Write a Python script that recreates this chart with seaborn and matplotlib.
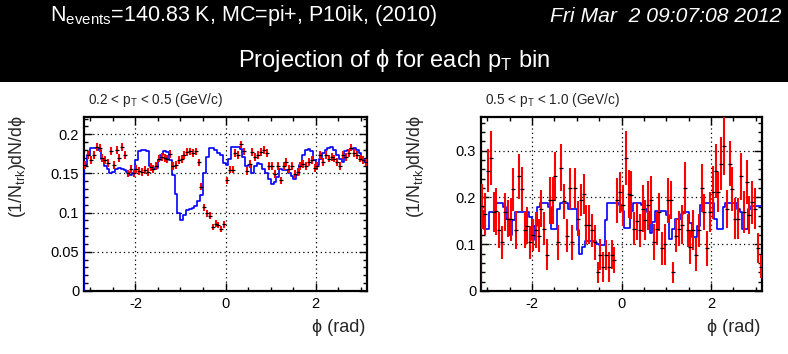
import numpy as np
import pandas as pd
import matplotlib
matplotlib.use("Agg")
import matplotlib.pyplot as plt
import seaborn as sns
from matplotlib.patches import Rectangle
from matplotlib.ticker import MultipleLocator, FuncFormatter

# --- values (100 phi bins from -pi to pi) ---
pt_bins = ["0.2 < $\\mathregular{p_{T}}$ < 0.5 (GeV/c)",
           "0.5 < $\\mathregular{p_{T}}$ < 1.0 (GeV/c)"]

data_low = [0.161, 0.173, 0.167, 0.173, 0.184, 0.182, 0.170, 0.167, 0.163, 0.179,
            0.161, 0.180, 0.170, 0.184, 0.174, 0.150, 0.156, 0.150, 0.156, 0.153,
            0.152, 0.154, 0.152, 0.158, 0.156, 0.159, 0.169, 0.171, 0.170, 0.168,
            0.175, 0.159, 0.161, 0.167, 0.168, 0.174, 0.177, 0.178, 0.176, 0.178,
            0.164, 0.133, 0.107, 0.099, 0.096, 0.082, 0.086, 0.084, 0.079, 0.085,
            0.141, 0.155, 0.155, 0.176, 0.174, 0.187, 0.178, 0.153, 0.162, 0.177,
            0.171, 0.174, 0.177, 0.180, 0.176, 0.159, 0.159, 0.149, 0.159, 0.141,
            0.159, 0.165, 0.156, 0.159, 0.149, 0.152, 0.159, 0.162, 0.159, 0.165,
            0.167, 0.157, 0.159, 0.173, 0.165, 0.174, 0.169, 0.171, 0.169, 0.165,
            0.159, 0.173, 0.171, 0.176, 0.183, 0.176, 0.173, 0.169, 0.167, 0.164]
err_low = [0.005, 0.005, 0.005, 0.005, 0.005, 0.005, 0.005, 0.005, 0.005, 0.005,
           0.005, 0.005, 0.005, 0.005, 0.005, 0.005, 0.005, 0.005, 0.005, 0.005,
           0.005, 0.005, 0.005, 0.005, 0.005, 0.005, 0.005, 0.005, 0.005, 0.005,
           0.005, 0.005, 0.005, 0.005, 0.005, 0.005, 0.005, 0.005, 0.005, 0.005,
           0.005, 0.0045, 0.0045, 0.0045, 0.0045, 0.004, 0.004, 0.004, 0.004, 0.004,
           0.0045, 0.005, 0.005, 0.005, 0.005, 0.005, 0.005, 0.005, 0.005, 0.005,
           0.005, 0.005, 0.005, 0.005, 0.005, 0.005, 0.005, 0.005, 0.005, 0.005,
           0.005, 0.005, 0.005, 0.005, 0.005, 0.005, 0.005, 0.005, 0.005, 0.005,
           0.005, 0.005, 0.005, 0.005, 0.005, 0.005, 0.005, 0.005, 0.005, 0.005,
           0.005, 0.005, 0.005, 0.005, 0.005, 0.005, 0.005, 0.005, 0.005, 0.005]
mc_low = [0.161, 0.173, 0.182, 0.183, 0.183, 0.180, 0.169, 0.160, 0.156, 0.150,
          0.152, 0.156, 0.157, 0.156, 0.154, 0.152, 0.148, 0.150, 0.167, 0.179,
          0.180, 0.180, 0.178, 0.159, 0.156, 0.157, 0.167, 0.174, 0.179, 0.177,
          0.167, 0.148, 0.124, 0.100, 0.091, 0.097, 0.103, 0.104, 0.106, 0.109,
          0.115, 0.122, 0.150, 0.171, 0.182, 0.183, 0.180, 0.176, 0.174, 0.163,
          0.161, 0.169, 0.184, 0.184, 0.184, 0.181, 0.171, 0.159, 0.161, 0.150,
          0.159, 0.163, 0.162, 0.156, 0.150, 0.143, 0.137, 0.139, 0.146, 0.156,
          0.154, 0.154, 0.151, 0.147, 0.143, 0.148, 0.161, 0.174, 0.180, 0.181,
          0.178, 0.167, 0.161, 0.169, 0.176, 0.180, 0.183, 0.184, 0.180, 0.173,
          0.169, 0.165, 0.178, 0.180, 0.181, 0.183, 0.180, 0.176, 0.169, 0.164]

data_high = [0.181, 0.165, 0.257, 0.284, 0.169, 0.170, 0.130, 0.104, 0.169, 0.155,
             0.153, 0.218, 0.130, 0.245, 0.218, 0.130, 0.140, 0.104, 0.120, 0.130,
             0.118, 0.176, 0.133, 0.078, 0.194, 0.194, 0.245, 0.104, 0.264, 0.192,
             0.118, 0.220, 0.104, 0.220, 0.155, 0.194, 0.208, 0.142, 0.142, 0.130,
             0.104, 0.040, 0.078, 0.052, 0.077, 0.052, 0.078, 0.066, 0.194, 0.211,
             0.183, 0.284, 0.208, 0.206, 0.133, 0.149, 0.130, 0.176, 0.151, 0.183,
             0.194, 0.105, 0.133, 0.169, 0.091, 0.100, 0.194, 0.194, 0.040, 0.118,
             0.133, 0.142, 0.220, 0.130, 0.094, 0.130, 0.078, 0.130, 0.220, 0.169,
             0.091, 0.169, 0.211, 0.257, 0.211, 0.272, 0.311, 0.176, 0.272, 0.218,
             0.155, 0.155, 0.245, 0.169, 0.233, 0.162, 0.190, 0.176, 0.091, 0.052]
err_high = [0.048, 0.045, 0.046, 0.058, 0.043, 0.051, 0.039, 0.035, 0.041, 0.039,
            0.046, 0.046, 0.041, 0.048, 0.048, 0.039, 0.039, 0.035, 0.035, 0.039,
            0.035, 0.039, 0.035, 0.034, 0.050, 0.050, 0.053, 0.037, 0.051, 0.037,
            0.035, 0.044, 0.037, 0.043, 0.037, 0.034, 0.043, 0.041, 0.041, 0.035,
            0.037, 0.023, 0.034, 0.032, 0.032, 0.032, 0.032, 0.028, 0.048, 0.044,
            0.044, 0.058, 0.051, 0.051, 0.035, 0.039, 0.035, 0.050, 0.043, 0.053,
            0.051, 0.039, 0.035, 0.041, 0.035, 0.044, 0.048, 0.041, 0.023, 0.035,
            0.037, 0.041, 0.055, 0.035, 0.037, 0.043, 0.035, 0.035, 0.051, 0.039,
            0.037, 0.043, 0.057, 0.058, 0.043, 0.057, 0.062, 0.041, 0.048, 0.048,
            0.043, 0.043, 0.050, 0.044, 0.048, 0.041, 0.046, 0.044, 0.032, 0.025]
mc_high = [0.170, 0.133, 0.133, 0.169, 0.169, 0.189, 0.189, 0.189, 0.180, 0.155,
           0.119, 0.151, 0.169, 0.169, 0.169, 0.169, 0.169, 0.158, 0.109, 0.140,
           0.180, 0.189, 0.189, 0.189, 0.180, 0.133, 0.133, 0.176, 0.189, 0.189,
           0.189, 0.176, 0.176, 0.176, 0.130, 0.080, 0.094, 0.106, 0.106, 0.106,
           0.106, 0.101, 0.098, 0.098, 0.151, 0.189, 0.189, 0.189, 0.189, 0.183,
           0.170, 0.135, 0.135, 0.172, 0.189, 0.189, 0.189, 0.183, 0.176, 0.169,
           0.123, 0.148, 0.172, 0.172, 0.172, 0.172, 0.162, 0.112, 0.133, 0.155,
           0.155, 0.165, 0.169, 0.169, 0.145, 0.116, 0.116, 0.140, 0.183, 0.189,
           0.189, 0.189, 0.189, 0.155, 0.133, 0.133, 0.180, 0.189, 0.189, 0.189,
           0.189, 0.176, 0.169, 0.133, 0.133, 0.176, 0.181, 0.181, 0.181, 0.181]

y_max = [0.222, 0.372]
y_major = [0.05, 0.1]
y_minor = [0.01, 0.02]

header_left = "$\\mathregular{N_{events}}$=140.83 K, MC=pi+, P10ik, (2010)"
header_date = "Fri Mar  2 09:07:08 2012"
header_title = "Projection of \u03d5 for each $\\mathregular{p_{T}}$ bin"
y_title = "(1/$\\mathregular{N_{trk}}$)dN/d\u03d5"
x_title = "\u03d5 (rad)"

sns.set_theme(style="ticks")
plt.rcParams["font.family"] = ["Liberation Sans", "DejaVu Sans"]
plt.rcParams["mathtext.fontset"] = "custom"
plt.rcParams["mathtext.rm"] = "Liberation Sans"
plt.rcParams["mathtext.it"] = "Liberation Sans:italic"
plt.rcParams["axes.unicode_minus"] = False

W, H = 788, 354
fig = plt.figure(figsize=(W / 100, H / 100), dpi=100)
fig.patch.set_facecolor("white")

# black header band
fig.patches.append(Rectangle((0, 1 - 82 / H), 1, 82 / H, transform=fig.transFigure,
                             facecolor="black", edgecolor="none", zorder=0))
fig.text(50 / W, 1 - 16 / H, header_left, color="white", fontsize=15.5,
         ha="left", va="center")
fig.text(781 / W, 1 - 16 / H, header_date, color="white", fontsize=15.2,
         style="italic", ha="right", va="center")
fig.text(394 / W, 1 - 60 / H, header_title, color="white", fontsize=17,
         ha="center", va="center")

edges = np.linspace(-np.pi, np.pi, 101)
centers = 0.5 * (edges[:-1] + edges[1:])

panels = [
    (84, 367, data_low, err_low, mc_low),
    (481, 762, data_high, err_high, mc_high),
]

for k, (x0, x1, dat, err, mc) in enumerate(panels):
    ax = fig.add_axes([x0 / W, (H - 291) / H, (x1 - x0) / W, (291 - 117) / H])
    ax.set_facecolor("white")

    # MC histogram as a step line starting from zero
    hist = pd.DataFrame({
        "phi": np.concatenate([[edges[0]], edges]),
        "val": np.concatenate([[0.0], mc, [mc[-1]]]),
    })
    sns.lineplot(data=hist, x="phi", y="val", ax=ax, color="#0000ff", lw=1.2,
                 drawstyle="steps-post", estimator=None, sort=False, zorder=3)

    # data points with red error bars and a black centre tick
    ax.errorbar(centers, dat, yerr=err, fmt="none", ecolor="#ff0000",
                elinewidth=1.5, capsize=0, zorder=4)
    ax.plot(centers, dat, ls="none", marker="_", ms=2.5, mew=0.9, color="black",
            zorder=5)

    ax.set_xlim(-np.pi, np.pi)
    ax.set_ylim(0, y_max[k])
    ax.xaxis.set_major_locator(MultipleLocator(2))
    ax.xaxis.set_minor_locator(MultipleLocator(0.5))
    ax.yaxis.set_major_locator(MultipleLocator(y_major[k]))
    ax.yaxis.set_minor_locator(MultipleLocator(y_minor[k]))
    ax.yaxis.set_major_formatter(FuncFormatter(lambda v, p: "%g" % round(v, 4)))
    ax.xaxis.set_major_formatter(FuncFormatter(lambda v, p: "%g" % round(v, 4)))
    ax.tick_params(which="both", direction="in", top=True, right=True,
                   colors="black", labelsize=10.5, width=1.0)
    ax.tick_params(which="major", length=5.5)
    ax.tick_params(which="minor", length=2.8)
    ax.tick_params(axis="y", pad=3.5)
    ax.tick_params(axis="x", pad=4)
    ax.grid(which="major", color="black", linestyle=(0, (1, 2.5)), linewidth=0.9)
    ax.set_axisbelow(True)
    for s in ax.spines.values():
        s.set_linewidth(1.6)
        s.set_color("black")
    ax.set_xlabel("")
    ax.set_ylabel("")

    fig.text((x0 + 4) / W, 1 - 100 / H, pt_bins[k], fontsize=9.8,
             ha="left", va="center")
    fig.text((x0 - 66) / W, 1 - 115 / H, y_title, fontsize=12.8, rotation=90,
             ha="center", va="top")
    fig.text((x1 - 2) / W, 1 - 327 / H, x_title, fontsize=13,
             ha="right", va="center")

fig.savefig("out.png", dpi=100, facecolor="white")
